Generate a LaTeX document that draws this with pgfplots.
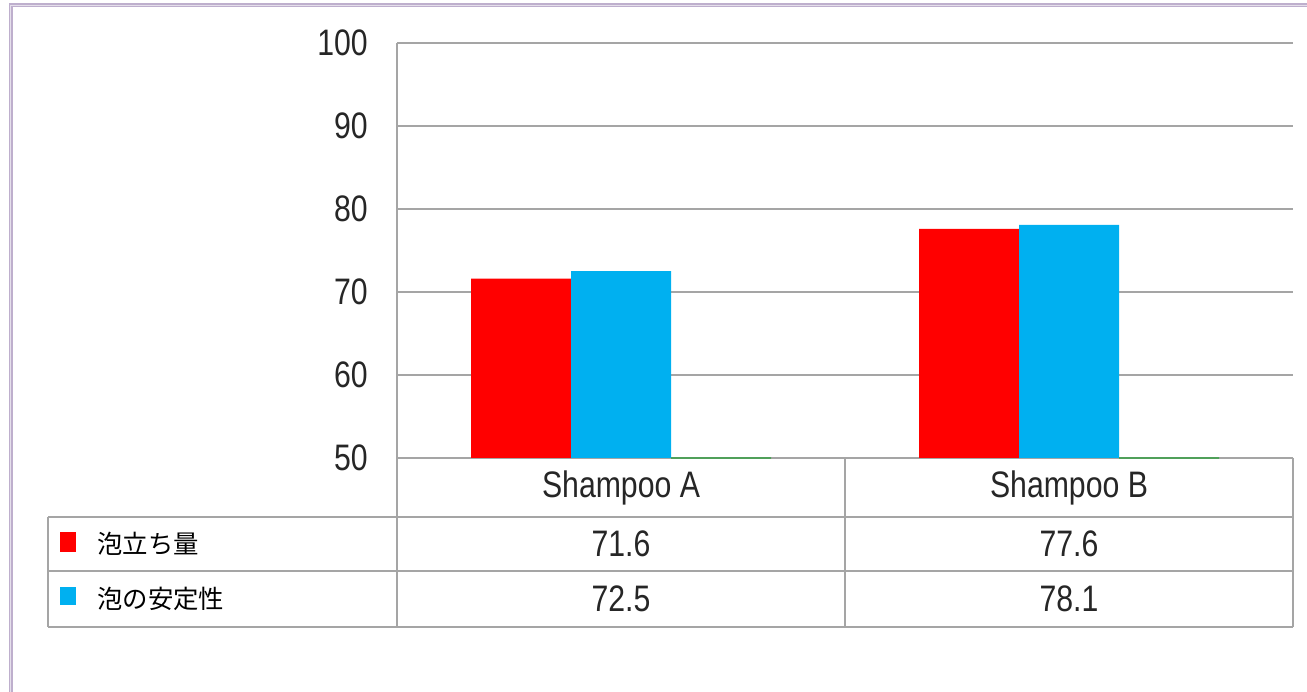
\documentclass[border=0pt]{standalone}
\usepackage{fontspec}
\setmainfont{Liberation Sans}[FakeStretch=0.82]
\newfontfamily\jp{Noto Sans CJK JP}
\usepackage{pgfplots}
\usepackage{pgfplotstable}
\pgfplotsset{compat=1.18}
\definecolor{barred}{RGB}{255,0,0}
\definecolor{barcyan}{RGB}{0,176,240}
\definecolor{bargreen}{RGB}{80,160,90}
\definecolor{gridgray}{RGB}{165,165,165}
\definecolor{framecol}{RGB}{190,175,205}

\pgfplotstableread{
x foam stab empty
0 71.6 72.5 50
1 77.6 78.1 50
}\data

\begin{document}
\begin{tikzpicture}[x=1bp,y=1bp]
\path[use as bounding box] (0,0) rectangle (1307,691);
\fill[white] (0,0) rectangle (1307,691);
% outer frame (top and left)
\draw[framecol, line width=4bp] (10.5,-5) -- (10.5,685.5) -- (1312,685.5);
\draw[white!60!framecol, line width=1bp] (10.5,-5) -- (10.5,685.5) -- (1312,685.5);
% data table lines
\begin{scope}[gridgray, line width=1.3bp]
\draw (397,233) -- (1293,233);
\draw (48,174) -- (1293,174);
\draw (48,120) -- (1293,120);
\draw (48,64) -- (1293,64);
\draw (48,174) -- (48,64);
\draw (397,648) -- (397,64);
\draw (845,233) -- (845,64);
\draw (1293,233) -- (1293,64);
\end{scope}
\begin{axis}[
  at={(397bp,233bp)}, anchor=south west,
  scale only axis, width=896bp, height=415bp,
  xmin=-0.5, xmax=1.5, ymin=50, ymax=100,
  ytick={50,60,...,100}, xtick=\empty,
  ymajorgrids, grid style={gridgray, line width=1.3bp},
  axis line style={draw=none},
  major tick length=0pt,
  yticklabel style={anchor=east, inner sep=0pt, xshift=-29bp,
    font=\fontsize{37}{37}\selectfont, text=black!85},
  /pgf/number format/assume math mode=true,
  ybar, bar width=0.2232, clip=false,
]
\addplot[fill=barred, draw=none, bar shift=-0.2232] table[x=x, y=foam] {\data};
\addplot[fill=barcyan, draw=none, bar shift=0] table[x=x, y=stab] {\data};
\addplot[fill=bargreen, draw=bargreen, line width=1.5bp, bar shift=0.2232] table[x=x, y=empty] {\data};
\end{axis}
% table text
\begin{scope}[every node/.style={inner sep=0pt, text=black!85, font=\fontsize{37}{37}\selectfont}]
\node at (621,203.5) {Shampoo A};
\node at (1069,203.5) {Shampoo B};
\node at (621,147) {71.6};
\node at (1069,147) {77.6};
\node at (621,92) {72.5};
\node at (1069,92) {78.1};
\end{scope}
\fill[barred] (60,139) rectangle (76,159);
\fill[barcyan] (60,86) rectangle (76,104);
\node[anchor=west, inner sep=0pt, font=\jp\fontsize{25.5}{25.5}\selectfont] at (97,147) {泡立ち量};
\node[anchor=west, inner sep=0pt, font=\jp\fontsize{25.5}{25.5}\selectfont] at (97,92) {泡の安定性};
\end{tikzpicture}
\end{document}
